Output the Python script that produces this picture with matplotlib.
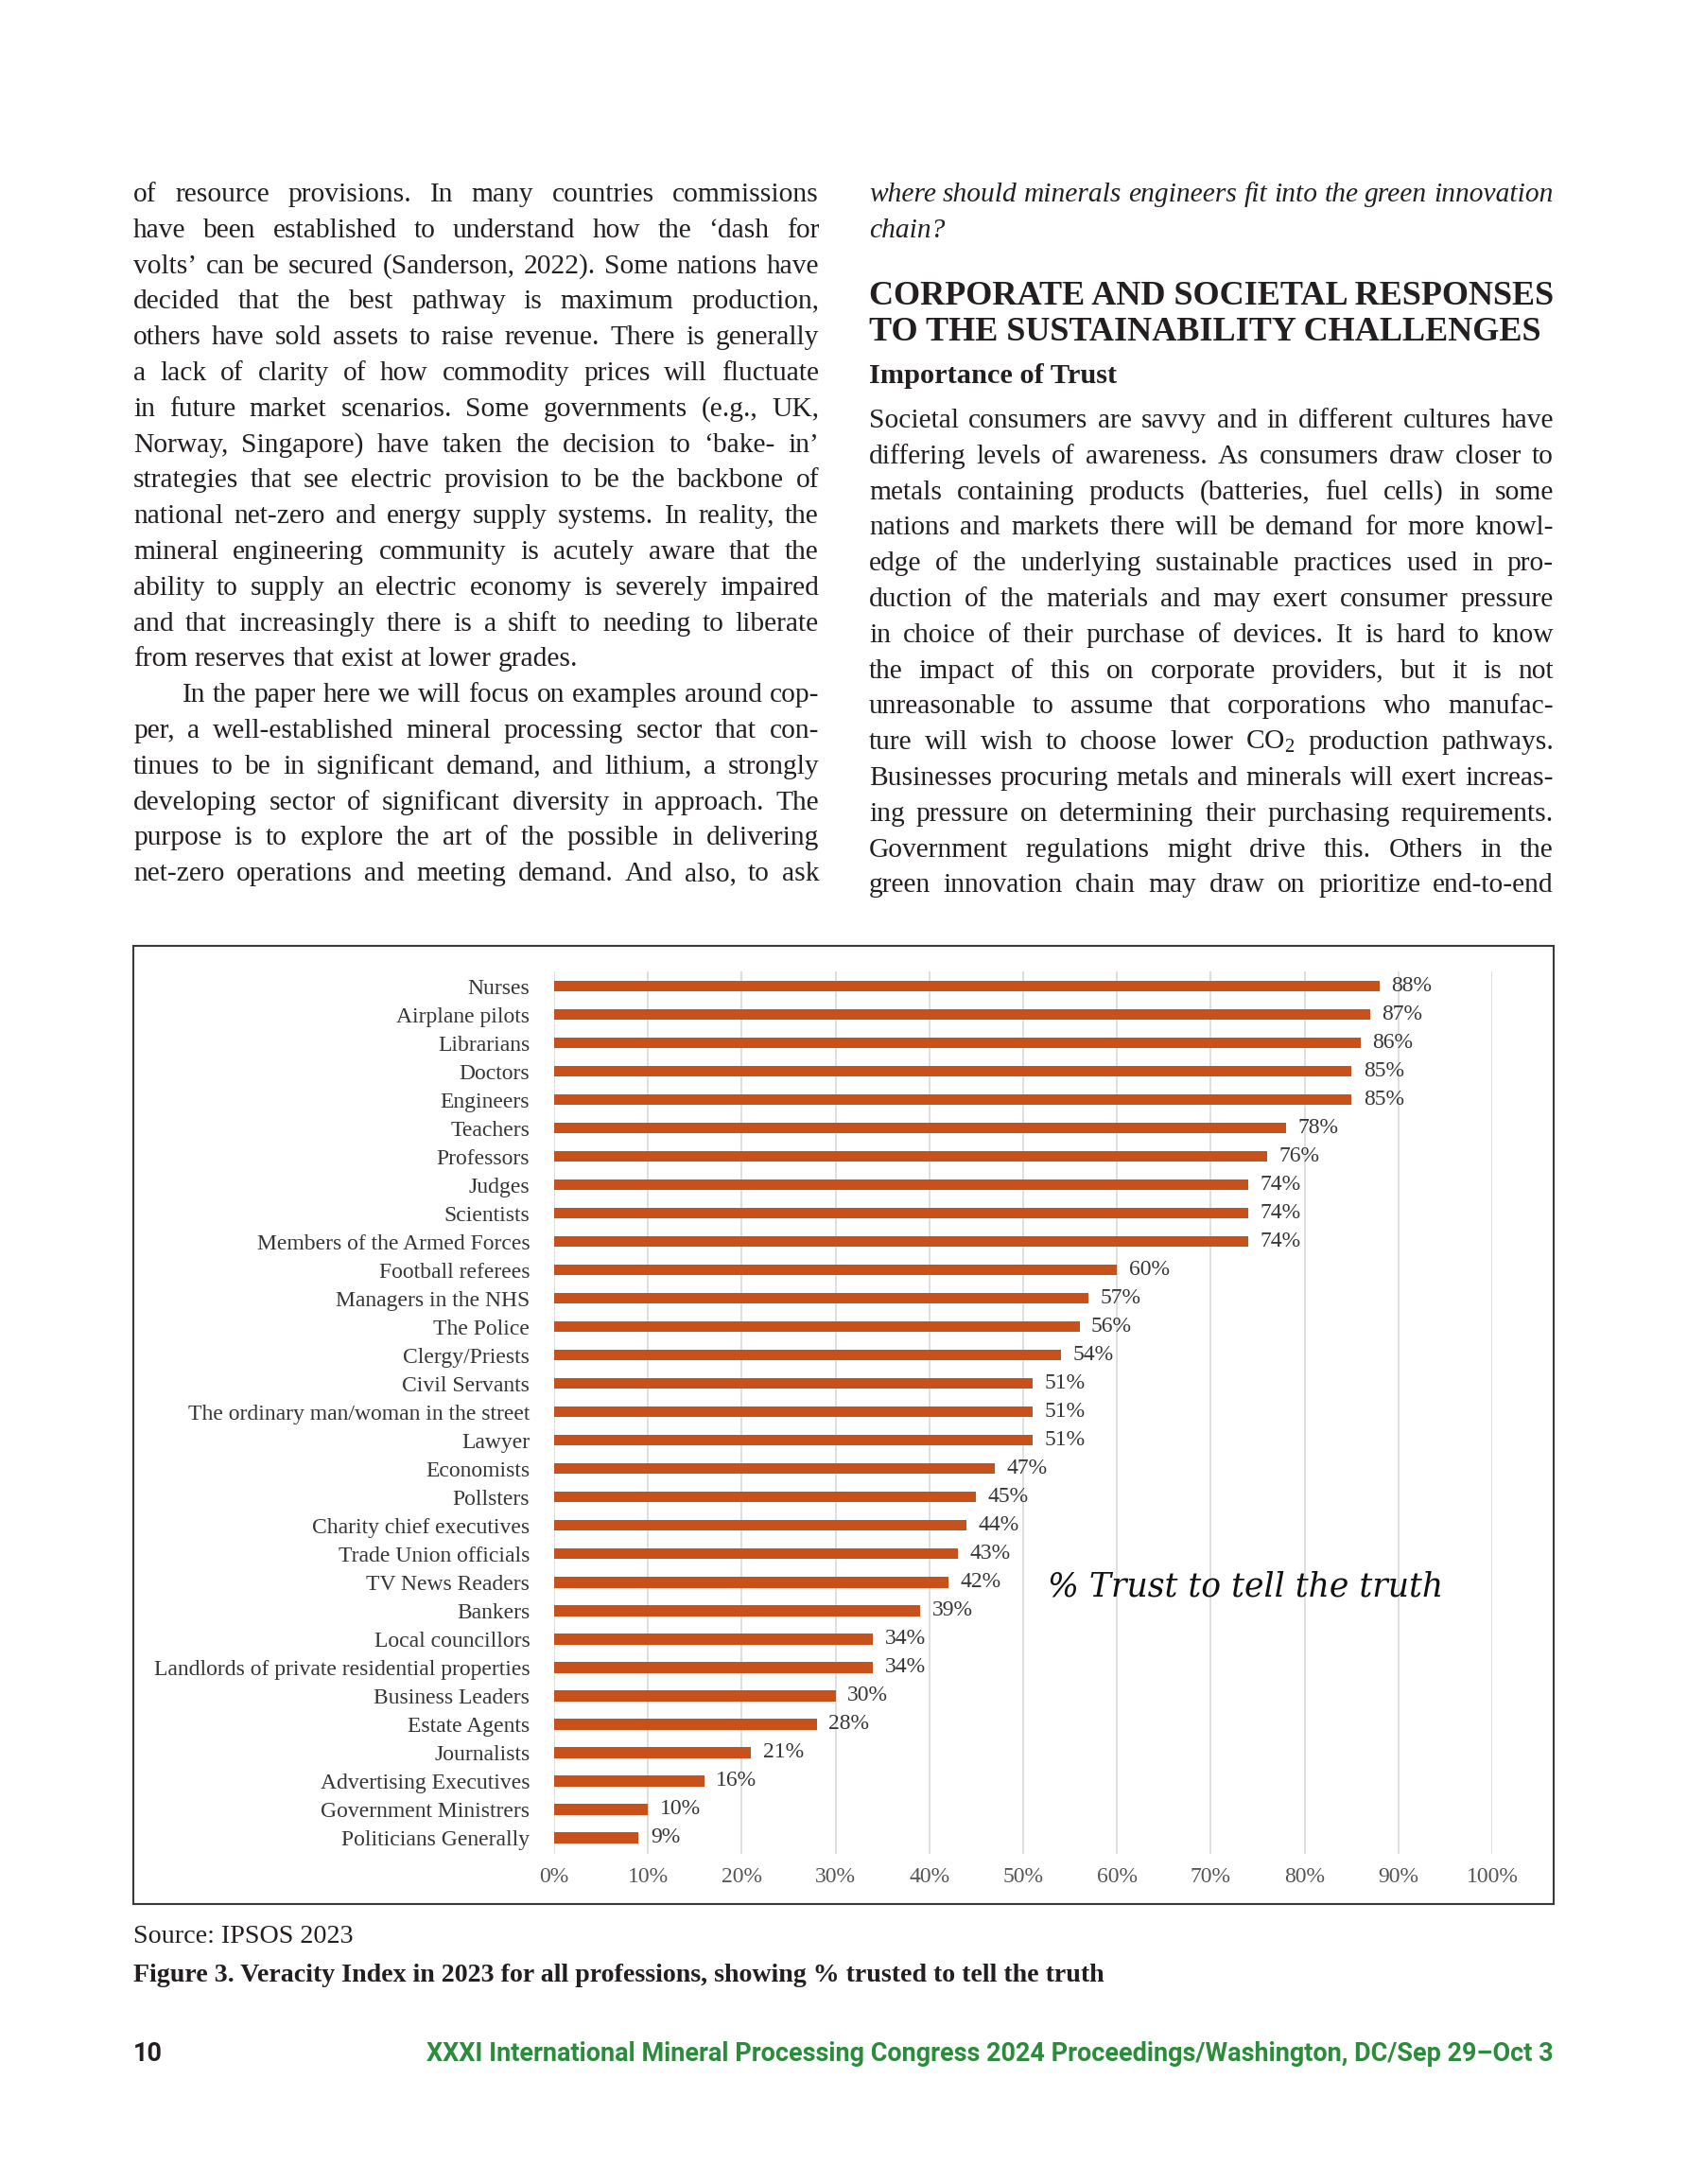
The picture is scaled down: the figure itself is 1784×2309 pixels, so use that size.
import matplotlib
matplotlib.use('Agg')
import matplotlib.pyplot as plt
from matplotlib.font_manager import FontProperties
from matplotlib.patches import Rectangle
import numpy as np

# page size in pixels (dpi 100)
W, H = 1784, 2309

plt.rcParams['mathtext.fontset'] = 'custom'
plt.rcParams['mathtext.rm'] = 'Liberation Serif'
plt.rcParams['mathtext.it'] = 'Liberation Serif:italic'

professions = ["Nurses", "Airplane pilots", "Librarians", "Doctors", "Engineers",
               "Teachers", "Professors", "Judges", "Scientists",
               "Members of the Armed Forces", "Football referees",
               "Managers in the NHS", "The Police", "Clergy/Priests",
               "Civil Servants", "The ordinary man/woman in the street", "Lawyer",
               "Economists", "Pollsters", "Charity chief executives",
               "Trade Union officials", "TV News Readers", "Bankers",
               "Local councillors", "Landlords of private residential properties",
               "Business Leaders", "Estate Agents", "Journalists",
               "Advertising Executives", "Government Ministrers",
               "Politicians Generally"]
trust = [88, 87, 86, 85, 85, 78, 76, 74, 74, 74, 60, 57, 56, 54, 51, 51, 51,
         47, 45, 44, 43, 42, 39, 34, 34, 30, 28, 21, 16, 10, 9]
x_ticks = [0, 10, 20, 30, 40, 50, 60, 70, 80, 90, 100]

left_lines = [
    "of resource provisions. In many countries commissions",
    "have been established to understand how the \u2018dash for",
    "volts\u2019 can be secured (Sanderson, 2022). Some nations have",
    "decided that the best pathway is maximum production,",
    "others have sold assets to raise revenue. There is generally",
    "a lack of clarity of how commodity prices will fluctuate",
    "in future market scenarios. Some governments (e.g., UK,",
    "Norway, Singapore) have taken the decision to \u2018bake- in\u2019",
    "strategies that see electric provision to be the backbone of",
    "national net-zero and energy supply systems. In reality, the",
    "mineral engineering community is acutely aware that the",
    "ability to supply an electric economy is severely impaired",
    "and that increasingly there is a shift to needing to liberate",
    "from reserves that exist at lower grades.",
    "In the paper here we will focus on examples around cop-",
    "per, a well-established mineral processing sector that con-",
    "tinues to be in significant demand, and lithium, a strongly",
    "developing sector of significant diversity in approach. The",
    "purpose is to explore the art of the possible in delivering",
    "net-zero operations and meeting demand. And also, to ask",
]
left_para_end = [13]
left_indent = [14]

italic_lines = [
    "where should minerals engineers fit into the green innovation",
    "chain?",
]
heading_lines = [
    "CORPORATE AND SOCIETAL RESPONSES",
    "TO THE SUSTAINABILITY CHALLENGES",
]
subheading = "Importance of Trust"
right_lines = [
    "Societal consumers are savvy and in different cultures have",
    "differing levels of awareness. As consumers draw closer to",
    "metals containing products (batteries, fuel cells) in some",
    "nations and markets there will be demand for more knowl-",
    "edge of the underlying sustainable practices used in pro-",
    "duction of the materials and may exert consumer pressure",
    "in choice of their purchase of devices. It is hard to know",
    "the impact of this on corporate providers, but it is not",
    "unreasonable to assume that corporations who manufac-",
    "ture will wish to choose lower CO$_2$ production pathways.",
    "Businesses procuring metals and minerals will exert increas-",
    "ing pressure on determining their purchasing requirements.",
    "Government regulations might drive this. Others in the",
    "green innovation chain may draw on prioritize end-to-end",
]
source_text = "Source: IPSOS 2023"
caption_text = "Figure 3. Veracity Index in 2023 for all professions, showing % trusted to tell the truth"
chart_note = "% Trust to tell the truth"
page_no = "10"
footer_text = "XXXI International Mineral Processing Congress 2024 Proceedings/Washington, DC/Sep 29\u2013Oct 3"

TEXT = '#231f20'
BAR = '#c8501a'
GREEN = '#2b8c3c'
SERIF = 'Liberation Serif'
LABEL_SIZE = 17

fig = plt.figure(figsize=(W / 100, H / 100), dpi=100)
renderer = fig.canvas.get_renderer()


def fx(x):
    return x / W


def fy(y):
    return 1 - y / H


def width_of(s, fp):
    t = fig.text(0, 0, s, fontproperties=fp)
    w = t.get_window_extent(renderer).width
    t.remove()
    return w


def fit_size(lines, target, base=20, **kw):
    fp = FontProperties(size=base, **kw)
    widest = max(width_of(l, fp) for l in lines)
    return base * target / widest


def put_line(line, x0, x1, yb, fp, justify=True, color=TEXT):
    words = line.split(' ')
    arts = [fig.text(0, 0, w, fontproperties=fp, color=color, va='baseline')
            for w in words]
    ws = [a.get_window_extent(renderer).width for a in arts]
    space = fp.get_size_in_points() * 100 / 72 * 0.25
    if justify and len(words) > 1:
        space = (x1 - x0 - sum(ws)) / (len(words) - 1)
    x = x0
    for a, w in zip(arts, ws):
        a.set_position((fx(x), fy(yb)))
        x += w + space


# column geometry
L0, L1 = 141, 866
R0, R1 = 919, 1643
LEAD = 37.8

body_size = 0.99 * fit_size(left_lines[:13] + right_lines, R1 - R0, family=SERIF)
body_fp = FontProperties(family=SERIF, size=body_size)
ital_fp = FontProperties(family=SERIF, style='italic', size=body_size)

for i, line in enumerate(left_lines):
    x0 = L0 + (52 if i in left_indent else 0)
    put_line(line, x0, L1, 213 + LEAD * i, body_fp, justify=i not in left_para_end)

put_line(italic_lines[0], R0, R1, 213, ital_fp)
put_line(italic_lines[1], R0, R1, 251, ital_fp, justify=False)

head_size = fit_size(heading_lines[:1], R1 - R0, family=SERIF, weight='bold')
head_fp = FontProperties(family=SERIF, weight='bold', size=head_size)
fig.text(fx(R0), fy(322), heading_lines[0], fontproperties=head_fp, color=TEXT, va='baseline')
fig.text(fx(R0), fy(360), heading_lines[1], fontproperties=head_fp, color=TEXT, va='baseline')

sub_size = fit_size([subheading], 262, family=SERIF, weight='bold')
fig.text(fx(R0), fy(405), subheading, color=TEXT, va='baseline',
         fontproperties=FontProperties(family=SERIF, weight='bold', size=sub_size))

for i, line in enumerate(right_lines):
    put_line(line, R0, R1, 452 + LEAD * i, body_fp)

# captions under the figure
src_size = fit_size([source_text], 233, family=SERIF)
fig.text(fx(L0), fy(2054), source_text, color=TEXT, va='baseline',
         fontproperties=FontProperties(family=SERIF, size=src_size))
cap_size = fit_size([caption_text], 1024, family=SERIF, weight='bold')
fig.text(fx(L0), fy(2095), caption_text, color=TEXT, va='baseline',
         fontproperties=FontProperties(family=SERIF, weight='bold', size=cap_size))

# footer
foot_size = fit_size([footer_text], 1188, family='Roboto', weight='bold')
foot_fp = FontProperties(family='Roboto', weight='bold', size=foot_size)
fig.text(fx(L0), fy(2179), page_no, fontproperties=foot_fp, color=TEXT, va='baseline')
fig.text(fx(R1), fy(2179), footer_text, fontproperties=foot_fp, color=GREEN,
         va='baseline', ha='right')

# figure frame
fig.add_artist(Rectangle((fx(L0), fy(2013)), fx(R1) - fx(L0), fy(1000) - fy(2013),
                         transform=fig.transFigure, fill=False,
                         edgecolor='#3a3a3a', linewidth=1.5))

# bar chart
ax = fig.add_axes([fx(586), fy(1960), fx(1578) - fx(586), fy(1027) - fy(1960)])
pos = np.arange(len(professions))
ax.barh(pos, trust, height=0.38, color=BAR, zorder=3)
for p, v in zip(pos, trust):
    ax.annotate(f'{v}%', (v, p), xytext=(9, 0), textcoords='offset points',
                va='center', ha='left', fontsize=LABEL_SIZE, family=SERIF, color='#363636')
ax.set_xlim(0, 100)
ax.set_ylim(30.57, -0.52)
ax.set_xticks(x_ticks)
ax.set_xticklabels([f'{t}%' for t in x_ticks], fontsize=LABEL_SIZE, family=SERIF,
                   color='#555555')
ax.set_yticks(pos)
ax.set_yticklabels(professions, fontsize=LABEL_SIZE, family=SERIF, color='#363636')
ax.tick_params(axis='both', length=0)
ax.tick_params(axis='x', pad=10)
ax.tick_params(axis='y', pad=18.5)
ax.grid(axis='x', color='#d9d9d9', linewidth=1.2, zorder=0)
for s in ax.spines.values():
    s.set_visible(False)

note_size = fit_size([chart_note], 419, family='DejaVu Serif', style='italic')
ax.text(fx(1108), fy(1688), chart_note, transform=fig.transFigure, va='baseline',
        fontproperties=FontProperties(family='DejaVu Serif', style='italic', size=note_size),
        color='#111111')

fig.savefig('out.png', dpi=100)
